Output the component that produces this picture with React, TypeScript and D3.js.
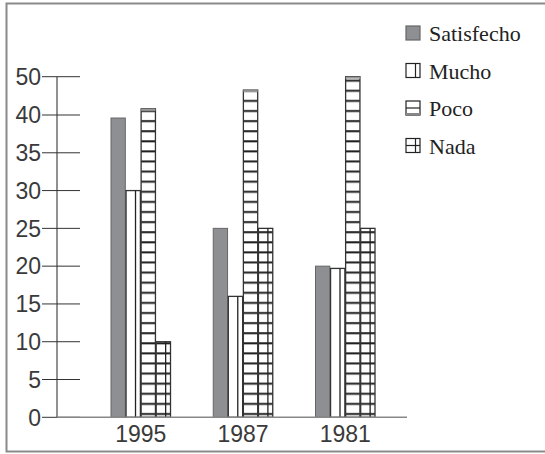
import React from 'react';
import * as d3 from 'd3';

// data
const years = ['1995', '1987', '1981'];
const series = ['Satisfecho', 'Mucho', 'Poco', 'Nada'];
const satisfecho = [39.6, 25, 20];
const mucho = [30, 16, 19.7];
const poco = [41.6, 46.5, 50];
const nada = [10, 25, 25];
const yTicks = [0, 5, 10, 15, 20, 25, 30, 35, 40, 50];

const values = [satisfecho, mucho, poco, nada];

const W = 545;
const H = 454;

const App = () => {
    // the original axis squeezes 40..50 into one tick step
    const y = d3.scaleLinear().domain([0, 40, 50]).range([417.3, 115, 76.7]);
    const x0 = d3.scaleBand().domain(years).range([111, 375]).paddingInner(0.418);
    const x1 = d3.scaleBand().domain(series).range([0, x0.bandwidth()]).paddingInner(0.05);
    const bw = x1.bandwidth();

    const fills = {
        Satisfecho: '#8e8f93',
        Mucho: '#ffffff',
        Poco: 'url(#hlines)',
        Nada: 'url(#hlines)',
    };

    return (
        <svg width={W} height={H} style={{ position: 'absolute', left: 0, top: 0, background: '#fff' }}>
            <defs>
                <pattern id="hlines" patternUnits="userSpaceOnUse" x={0} y={79.5} width={4} height={10.1}>
                    <rect width={4} height={10.1} fill="#fff" />
                    <rect x={0} y={0.2} width={4} height={2} fill="#1e1e1e" />
                </pattern>
            </defs>

            {/* frame */}
            <rect x={6.5} y={3.5} width={W} height={448} fill="none" stroke="#8a8a8a" strokeWidth={2} />

            {/* y axis */}
            <line x1={57} x2={57} y1={y(50)} y2={y(0)} stroke="#222" strokeWidth={1} />
            {yTicks.map(t => (
                <g key={t}>
                    <line x1={42} x2={80} y1={y(t)} y2={y(t)} stroke="#333" strokeWidth={1} />
                    <text x={41} y={y(t)} dy="0.36em" textAnchor="end" fontFamily="Liberation Sans, Arial, sans-serif"
                        fontSize={23} fill="#3a3a3a">{t}</text>
                </g>
            ))}

            {/* bars */}
            {years.map((yr, i) => (
                <g key={yr} transform={`translate(${x0(yr)},0)`}>
                    {series.map((s, j) => {
                        const v = values[j][i];
                        const bx = x1(s);
                        const top = y(v);
                        const h = y(0) - top;
                        return (
                            <g key={s}>
                                <rect x={bx} y={top} width={bw} height={h} fill={fills[s]}
                                    stroke={s === 'Satisfecho' ? '#666' : '#333'} strokeWidth={s === 'Satisfecho' ? 1 : 1.3} />
                                {(s === 'Mucho' || s === 'Nada') && (
                                    <line x1={bx + bw * 0.66} x2={bx + bw * 0.66} y1={top} y2={y(0)} stroke="#222" strokeWidth={1.3} />
                                )}
                                {s === 'Poco' && (
                                    <line x1={bx} x2={bx + bw} y1={top + 1} y2={top + 1} stroke="#999" strokeWidth={2} />
                                )}
                            </g>
                        );
                    })}
                    <text x={x0.bandwidth() / 2} y={442} textAnchor="middle" fontFamily="Liberation Sans, Arial, sans-serif"
                        fontSize={23} fill="#3a3a3a">{yr}</text>
                </g>
            ))}

            {/* x axis */}
            <line x1={57} x2={407} y1={y(0)} y2={y(0)} stroke="#888" strokeWidth={1.5} />

            {/* legend */}
            {series.map((s, j) => {
                const ly = 26 + j * 37.5;
                const lx = 406;
                return (
                    <g key={s}>
                        <rect x={lx} y={ly} width={14} height={14}
                            fill={s === 'Satisfecho' ? '#8e8f93' : '#fff'}
                            stroke={s === 'Satisfecho' ? '#666' : '#222'} strokeWidth={1.2} />
                        {(s === 'Mucho' || s === 'Nada') && (
                            <line x1={lx + 9.5} x2={lx + 9.5} y1={ly} y2={ly + 14} stroke="#222" strokeWidth={1.2} />
                        )}
                        {(s === 'Poco' || s === 'Nada') && (
                            <line x1={lx} x2={lx + 14} y1={ly + 7} y2={ly + 7} stroke="#222" strokeWidth={1.2} />
                        )}
                        {s === 'Poco' && (
                            <line x1={lx} x2={lx + 14} y1={ly + 13} y2={ly + 13} stroke="#888" strokeWidth={2} />
                        )}
                        <text x={429} y={ly + 15} fontFamily="Liberation Serif, Times New Roman, serif" fontSize={22} fill="#222">{s}</text>
                    </g>
                );
            })}
        </svg>
    );
};

export default App;
